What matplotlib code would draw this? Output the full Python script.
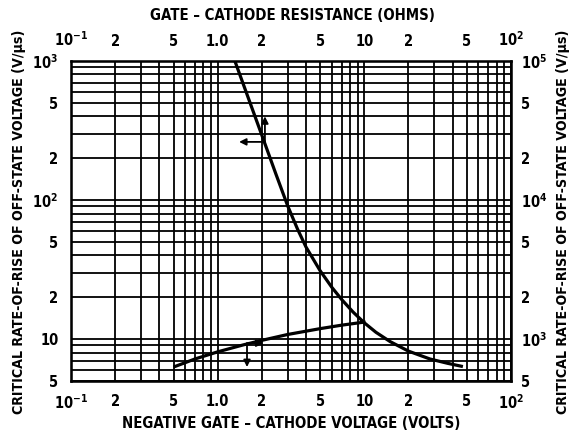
import matplotlib
matplotlib.use('Agg')
import matplotlib.pyplot as plt

plt.rcParams['font.family'] = ['DejaVu Sans']
plt.rcParams['font.stretch'] = 'condensed'
plt.rcParams['font.weight'] = 'bold'
plt.rcParams['mathtext.fontset'] = 'custom'
plt.rcParams['mathtext.rm'] = 'DejaVu Sans:bold'
plt.rcParams['mathtext.default'] = 'rm'

# gate-cathode resistance curve (top axis, left axis)
res_ohms = [1.31, 1.5, 2.0, 2.5, 3.0, 3.5, 4.0, 5.0, 6.0, 7.0, 8.36, 10.0, 12.0, 15.0, 20.0, 28.0, 37.0, 47.0]
res_dvdt = [1000, 675, 293, 153, 91, 62, 46, 31, 23.6, 19.3, 15.7, 13.1, 11.2, 9.6, 8.2, 7.2, 6.7, 6.35]

# negative gate-cathode voltage curve (bottom axis, right axis)
neg_volts = [0.5, 0.7, 1.0, 1.5, 2.0, 3.0, 5.0, 7.0, 10.2]
neg_dvdt = [630, 720, 810, 910, 980, 1080, 1190, 1260, 1330]

x_ticks = [0.1, 0.2, 0.5, 1, 2, 5, 10, 20, 50, 100]
x_labels = ['10$^{-1}$', '2', '5', '1.0', '2', '5', '10', '2', '5', '10$^{2}$']
yl_ticks = [5, 10, 20, 50, 100, 200, 500, 1000]
yl_labels = ['5', '10', '2', '5', '10$^{2}$', '2', '5', '10$^{3}$']
yr_ticks = [500, 1000, 2000, 5000, 10000, 20000, 50000, 100000]
yr_labels = ['5', '10$^{3}$', '2', '5', '10$^{4}$', '2', '5', '10$^{5}$']

fig = plt.figure(figsize=(5.71, 4.38), dpi=100)
ax = fig.add_axes([71/571, 1-381/438, 440/571, 320/438])
ax.set_xscale('log')
ax.set_yscale('log')
ax.set_xlim(0.1, 100)
ax.set_ylim(5, 1000)
ax.grid(True, which='both', color='black', lw=1.3)
ax.set_xticks(x_ticks)
ax.set_xticklabels(x_labels)
ax.set_yticks(yl_ticks)
ax.set_yticklabels(yl_labels)
ax.minorticks_on()
ax.tick_params(which='both', length=0, labelsize=10.5)
ax.tick_params(axis='x', pad=9)
ax.tick_params(axis='y', pad=9)
ax.xaxis.set_minor_formatter(plt.NullFormatter())
ax.yaxis.set_minor_formatter(plt.NullFormatter())
for s in ax.spines.values():
    s.set_linewidth(1.8)

axt = ax.twiny()
axt.set_xscale('log')
axt.set_xlim(0.1, 100)
axt.set_xticks(x_ticks)
axt.set_xticklabels(x_labels)
axt.xaxis.set_minor_formatter(plt.NullFormatter())
axt.tick_params(which='both', length=0, labelsize=10.5, pad=9)

axr = ax.twinx()
axr.set_yscale('log')
axr.set_ylim(500, 100000)
axr.set_yticks(yr_ticks)
axr.set_yticklabels(yr_labels)
axr.yaxis.set_minor_formatter(plt.NullFormatter())
axr.tick_params(which='both', length=0, labelsize=10.5, pad=7)

axt.plot(res_ohms, res_dvdt, color='black', lw=2.3, solid_capstyle='butt')
axr.plot(neg_volts, neg_dvdt, color='black', lw=2.3, solid_capstyle='butt')

# reading arrows
arr = dict(arrowstyle='-|>', color='black', lw=1.3, mutation_scale=10, shrinkA=0, shrinkB=0)
axt.annotate('', xy=(2.1, 400), xytext=(2.1, 258), arrowprops=arr)
axt.annotate('', xy=(1.4, 262), xytext=(2.1, 262), arrowprops=arr)
axr.annotate('', xy=(1.585, 630), xytext=(1.585, 935), arrowprops=arr)
axr.annotate('', xy=(2.05, 935), xytext=(1.585, 935), arrowprops=arr)

ylab = 'CRITICAL RATE-OF-RISE OF OFF-STATE VOLTAGE (V/µs)'
fig.text(19/571, 1-222/438, ylab, rotation=90, ha='center', va='center', fontsize=10.2)
fig.text(563/571, 1-222/438, ylab, rotation=90, ha='center', va='center', fontsize=10.2)
fig.text(292/571, 1-15/438, 'GATE – CATHODE RESISTANCE (OHMS)', ha='center', va='center', fontsize=10.7)
fig.text(291/571, 1-423/438, 'NEGATIVE GATE – CATHODE VOLTAGE (VOLTS)', ha='center', va='center', fontsize=10.7)

fig.savefig('out.png', dpi=100)
